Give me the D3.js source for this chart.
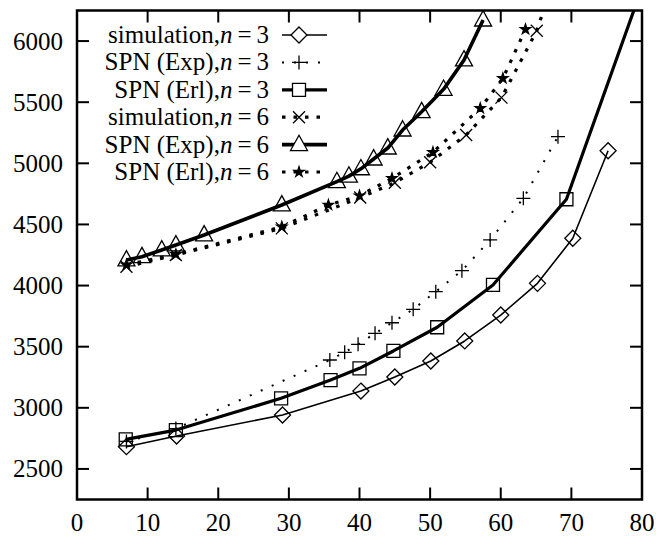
<!DOCTYPE html>
<html>
<head>
<meta charset="utf-8">
<script src="https://cdn.jsdelivr.net/npm/d3@7"></script>
<style>
  body { margin: 0; background: #fff; }
  svg { display: block; }
</style>
</head>
<body>
<div class="svg-container"></div>
<script>
// values
const xTicks = [0, 10, 20, 30, 40, 50, 60, 70, 80];
const yTicks = [2500, 3000, 3500, 4000, 4500, 5000, 5500, 6000];

const simN3X = [7, 14.1, 29.1, 40.2, 45, 50.1, 54.9, 60, 65.2, 70.2, 75.2];
const simN3Y = [2682, 2769, 2941, 3137, 3252, 3383, 3547, 3759, 4018, 4387, 5103];

const expN3X = [7, 14, 35.8, 37.9, 39.8, 42.2, 44.6, 47.6, 50.8, 54.5, 58.5, 63.2, 68.1];
const expN3Y = [2725, 2830, 3391, 3454, 3519, 3609, 3696, 3806, 3950, 4122, 4373, 4714, 5218];

const erlN3X = [6.9, 14, 28.9, 35.9, 40, 44.8, 51, 58.9, 69.3, 80.2];
const erlN3Y = [2742, 2818, 3078, 3227, 3323, 3465, 3659, 4005, 4706, 6470];

const simN6X = [7, 14, 29, 40.1, 45, 50, 55.1, 60.1, 65.1, 70];
const simN6Y = [4154, 4250, 4468, 4720, 4841, 5008, 5232, 5537, 6085, 6930];

const expN6X = [7, 9.2, 12, 14, 18, 29, 36.8, 38.5, 40.2, 42, 44, 46.1, 48.8, 51.9, 54.8, 57.5];
const expN6Y = [4209, 4236, 4291, 4332, 4414, 4659, 4850, 4895, 4955, 5035, 5125, 5272, 5422, 5605, 5845, 6172];

const erlN6X = [7, 14, 29, 35.6, 40, 44.6, 50.4, 57.1, 60.3, 63.5];
const erlN6Y = [4170, 4255, 4480, 4659, 4735, 4877, 5090, 5450, 5695, 6096];

const labels = ["simulation,", "SPN (Exp),", "SPN (Erl),", "simulation,", "SPN (Exp),", "SPN (Erl),"];
const nValues = [3, 3, 3, 6, 6, 6];

const width = 656, height = 539;
const pLeft = 77, pRight = 642, pTop = 10.5, pBottom = 499.5;

const x = d3.scaleLinear().domain([0, 80]).range([pLeft, pRight]);
const y = d3.scaleLinear().domain([2250, 6250]).range([pBottom, pTop]);

const svg = d3.select(".svg-container").append("svg")
    .attr("width", width).attr("height", height)
    .attr("viewBox", "0 0 " + width + " " + height);

svg.append("clipPath").attr("id", "plot").append("rect")
    .attr("x", pLeft).attr("y", pTop).attr("width", pRight - pLeft).attr("height", pBottom - pTop);

// markers
const diamond = s => `M0,${-s}L${s},0L0,${s}L${-s},0Z`;
const square = s => `M${-s},${-s}H${s}V${s}H${-s}Z`;
const triangle = s => `M0,${-s * 1.1}L${s},${s * 0.7}L${-s},${s * 0.7}Z`;
const plus = s => `M${-s},0H${s}M0,${-s}V${s}`;
const cross = s => `M${-s},${-s}L${s},${s}M${s},${-s}L${-s},${s}`;
const star = d3.symbol().type(d3.symbolStar).size(32);

const series = [
  { xs: simN3X, ys: simN3Y, lw: 1.6, dash: null, mark: diamond(8), fill: "none" },
  { xs: expN3X, ys: expN3Y, lw: 2, dash: "2,10", mark: plus(7), fill: "none" },
  { xs: erlN3X, ys: erlN3Y, lw: 3.2, dash: null, mark: square(6.5), fill: "none" },
  { xs: simN6X, ys: simN6Y, lw: 3.2, dash: "3.5,8", mark: cross(6), fill: "none" },
  { xs: expN6X, ys: expN6Y, lw: 3.6, dash: null, mark: triangle(8.5), fill: "none" },
  { xs: erlN6X, ys: erlN6Y, lw: 3.2, dash: "3.5,8", mark: star(), fill: "#000" }
];

const line = d3.line().x(d => x(d[0])).y(d => y(d[1]));
const plot = svg.append("g").attr("clip-path", "url(#plot)");

series.forEach(s => {
  const pts = s.xs.map((v, i) => [v, s.ys[i]]);
  plot.append("path").datum(pts)
      .attr("d", line)
      .attr("fill", "none").attr("stroke", "#000")
      .attr("stroke-width", s.lw)
      .attr("stroke-dasharray", s.dash)
      .attr("stroke-linejoin", "round");
  plot.selectAll(null).data(pts).enter().append("path")
      .attr("transform", d => "translate(" + x(d[0]) + "," + y(d[1]) + ")")
      .attr("d", s.mark)
      .attr("fill", s.fill)
      .attr("stroke", "#000").attr("stroke-width", 1.3);
});

// frame and mirrored inward ticks
const tickLen = 12;
const axes = svg.append("g").attr("stroke", "#000").attr("stroke-width", 2);
xTicks.slice(1, -1).forEach(t => {
  axes.append("line").attr("x1", x(t)).attr("x2", x(t)).attr("y1", pBottom).attr("y2", pBottom - tickLen);
  axes.append("line").attr("x1", x(t)).attr("x2", x(t)).attr("y1", pTop).attr("y2", pTop + tickLen);
});
yTicks.forEach(t => {
  axes.append("line").attr("x1", pLeft).attr("x2", pLeft + tickLen).attr("y1", y(t)).attr("y2", y(t));
  axes.append("line").attr("x1", pRight).attr("x2", pRight - tickLen).attr("y1", y(t)).attr("y2", y(t));
});
svg.append("rect").attr("x", pLeft).attr("y", pTop)
    .attr("width", pRight - pLeft).attr("height", pBottom - pTop)
    .attr("fill", "none").attr("stroke", "#000").attr("stroke-width", 2.5);

const font = "'Liberation Serif', 'DejaVu Serif', serif";
svg.append("g").selectAll("text").data(xTicks).enter().append("text")
    .attr("x", d => x(d)).attr("y", 531)
    .attr("text-anchor", "middle")
    .attr("font-family", font).attr("font-size", 25)
    .text(d => d);
svg.append("g").selectAll("text").data(yTicks).enter().append("text")
    .attr("x", 63).attr("y", d => y(d) + 8.5)
    .attr("text-anchor", "end")
    .attr("font-family", font).attr("font-size", 25)
    .text(d => d);

// legend
const leg = svg.append("g");
series.forEach((s, i) => {
  const ly = 35 + 27.4 * i;
  const t = leg.append("text").attr("x", 269).attr("y", ly + 8)
      .attr("text-anchor", "end")
      .attr("font-family", font).attr("font-size", 25);
  t.append("tspan").text(labels[i]);
  t.append("tspan").attr("font-style", "italic").text("n");
  t.append("tspan").attr("dx", 5).text("=");
  t.append("tspan").attr("dx", 5).text(nValues[i]);
  leg.append("line").attr("x1", 282).attr("x2", 327).attr("y1", ly).attr("y2", ly)
      .attr("stroke", "#000").attr("stroke-width", s.lw).attr("stroke-dasharray", s.dash);
  leg.append("path").attr("transform", "translate(299," + ly + ")")
      .attr("d", s.mark)
      .attr("fill", s.fill === "none" ? "#fff" : s.fill)
      .attr("stroke", "#000").attr("stroke-width", 1.3);
});
</script>
</body>
</html>
